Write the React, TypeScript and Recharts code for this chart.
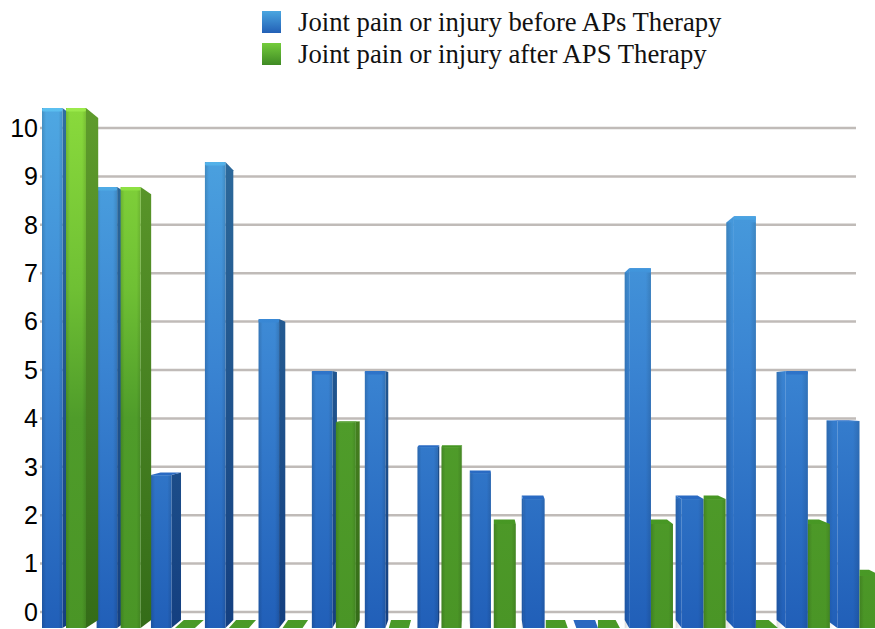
import { BarChart, Bar, XAxis, YAxis, CartesianGrid, Legend } from "recharts";

const groups = ["1", "2", "3", "4", "5", "6", "7", "8", "9", "10", "11", "12", "13", "14", "15", "16"];
const before = [10, 8.48, 2.94, 8.96, 5.94, 4.94, 4.94, 3.48, 2.98, 2.48, 0, 6.92, 2.48, 7.92, 4.94, 3.98];
const after = [10, 8.48, 0, 0, 0, 3.96, 0, 3.48, 2, 0, 0, 2, 2.48, 0, 2, 1];
const yTicks = [0, 1, 2, 3, 4, 5, 6, 7, 8, 9, 10];

const beforeName = "Joint pain or injury before APs Therapy";
const afterName = "Joint pain or injury after APS Therapy";

const data = groups.map((name, i) => ({ name, before: before[i], after: after[i] }));

const BAR = 24;
const HORIZON = 397;

// the original is a 3D chart, so columns drift and widen slightly across the page
const warp = (x: number) => x + 0.0477 * (x - 42) - 0.000061 * (x - 42) ** 2;
const blueWidth = (x: number) => 20.5 + Math.max(0, x - 450) * 0.033;
const sideDepth = (x: number) => (480 - x) * 0.031;
const skew = (y: number) => (HORIZON - y) * 0.0346;

function Prism({ left, right, y, base, id, dx, leftFixed }: any) {
  const rise = skew(y);
  const edge = skew(base);
  const bevelLeft = dx < 0 && !leftFixed;
  const frontL = bevelLeft ? left - dx : left;
  const sideX = dx < 0 ? frontL : right;
  const shadeL = bevelLeft ? left : frontL;
  const shadeY = bevelLeft ? y + Math.max(rise, 0) : y;
  return (
    <g>
      {dx !== 0 && !(leftFixed && dx < 0) && (
        <polygon
          points={`${sideX},${y} ${sideX + dx},${y + rise} ${sideX + dx},${base + edge} ${sideX},${base}`}
          fill={dx < 0 ? `url(#${id}Front)` : `url(#${id}Side)`}
        />
      )}
      <rect x={frontL} y={y} width={Math.max(0, right - frontL)} height={base - y} fill={`url(#${id}Front)`} />
      <rect x={shadeL} y={shadeY} width={Math.max(0, right - shadeL)} height={Math.max(0, base - shadeY)} fill="url(#edgeShade)" />
      {rise < 0 ? (
        <polygon
          points={`${frontL},${y} ${right},${y} ${right + dx},${y + rise} ${(leftFixed && dx < 0 ? frontL : frontL + dx)},${y + rise}`}
          fill={`url(#${id}Cap)`}
        />
      ) : (
        <rect x={frontL} y={y} width={Math.max(0, right - frontL)} height={3.5} rx={1.5} fill={`url(#${id}Cap)`} />
      )}
    </g>
  );
}

function BlueBar(props: any) {
  const left = warp(props.x);
  const w = blueWidth(left);
  const right = left + w;
  return <Prism left={left} right={right} y={props.y} base={props.y + props.height} id="blue" dx={sideDepth(left < 480 ? right : left)} />;
}

function GreenBar(props: any) {
  const start = warp(props.x - BAR);
  const left = start + Math.max(24, blueWidth(start));
  const right = left + (left > 470 ? 22 : 20);
  return <Prism left={left} right={right} y={props.y} base={props.y + props.height} id="green" dx={sideDepth(right)} leftFixed />;
}

function LegendBox({ payload }: any) {
  return (
    <div>
      {(payload || []).map((entry: any, i: number) => (
        <div key={entry.value} style={{ display: "flex", alignItems: "center", height: 32 }}>
          <span
            style={{
              display: "inline-block",
              width: 19,
              height: 22,
              marginRight: 17,
              background:
                i === 0 ? "linear-gradient(#4aa6e0, #2360b6)" : "linear-gradient(#74cc3c, #3f8a24)",
            }}
          />
          <span style={{ fontFamily: "Liberation Serif", fontSize: 26.7, color: "#111", whiteSpace: "nowrap" }}>{entry.value}</span>
        </div>
      ))}
    </div>
  );
}

function GridLine(props: any) {
  return <line x1={props.x1} y1={props.y1} x2={856} y2={props.y2} stroke="#c0bbb8" strokeWidth={2.5} />;
}

export default function App() {
  return (
    <div style={{ position: "absolute", left: 0, top: 0, width: 875, height: 629, overflow: "hidden" }}>
      <BarChart
        width={890}
        height={629}
        data={data}
        barSize={BAR}
        barGap={0}
        margin={{ top: 100, right: 13, bottom: 1, left: 0 }}
      >
        <defs>
          <linearGradient id="blueFront" gradientUnits="userSpaceOnUse" x1="0" y1="105" x2="0" y2="628">
            <stop offset="0" stopColor="#4fa8e2" />
            <stop offset="0.5" stopColor="#3a84d2" />
            <stop offset="1" stopColor="#215fb8" />
          </linearGradient>
          <linearGradient id="blueSide" gradientUnits="userSpaceOnUse" x1="0" y1="105" x2="0" y2="628">
            <stop offset="0" stopColor="#2f6e9e" />
            <stop offset="1" stopColor="#143f80" />
          </linearGradient>
          <linearGradient id="blueCap" gradientUnits="userSpaceOnUse" x1="0" y1="105" x2="0" y2="628">
            <stop offset="0" stopColor="#5cc0f0" />
            <stop offset="0.4" stopColor="#3a8ad6" />
            <stop offset="0.55" stopColor="#2a6cc4" />
            <stop offset="1" stopColor="#2a68c0" />
          </linearGradient>
          <linearGradient id="greenFront" gradientUnits="userSpaceOnUse" x1="0" y1="105" x2="0" y2="628">
            <stop offset="0" stopColor="#8ada3c" />
            <stop offset="0.35" stopColor="#6fc034" />
            <stop offset="0.6" stopColor="#4f9c2a" />
            <stop offset="1" stopColor="#4a9526" />
          </linearGradient>
          <linearGradient id="greenSide" gradientUnits="userSpaceOnUse" x1="0" y1="105" x2="0" y2="628">
            <stop offset="0" stopColor="#5f9c2c" />
            <stop offset="1" stopColor="#346c18" />
          </linearGradient>
          <linearGradient id="greenCap" gradientUnits="userSpaceOnUse" x1="0" y1="105" x2="0" y2="628">
            <stop offset="0" stopColor="#9cea4c" />
            <stop offset="0.2" stopColor="#8ade40" />
            <stop offset="0.6" stopColor="#459520" />
            <stop offset="1" stopColor="#4a9a28" />
          </linearGradient>
          <linearGradient id="edgeShade" x1="0" y1="0" x2="1" y2="0">
            <stop offset="0" stopColor="#000" stopOpacity="0.14" />
            <stop offset="0.2" stopColor="#000" stopOpacity="0" />
            <stop offset="0.8" stopColor="#000" stopOpacity="0" />
            <stop offset="1" stopColor="#000" stopOpacity="0.12" />
          </linearGradient>
        </defs>
        <CartesianGrid yAxisId="ticks" vertical={false} horizontal={GridLine} syncWithTicks />
        <XAxis dataKey="name" hide />
        <YAxis
          yAxisId="ticks"
          width={40}
          domain={[-0.3306, 10.579]}
          ticks={yTicks}
          interval={0}
          allowDataOverflow
          axisLine={false}
          tickLine={false}
          tickSize={0}
          tickMargin={2}
          tick={{ fontFamily: "Liberation Sans", fontSize: 25, fill: "#000" }}
        />
        <YAxis yAxisId="bars" orientation="right" width={0} hide domain={[0, 10.154]} allowDataOverflow />
        <Legend
          verticalAlign="middle"
          itemSorter={null}
          content={LegendBox}
          wrapperStyle={{ position: "absolute", left: 262, top: 6, width: 500 }}
        />
        <Bar yAxisId="bars" dataKey="before" name={beforeName} fill="#3a84d2" shape={BlueBar} isAnimationActive={false} />
        <Bar yAxisId="bars" dataKey="after" name={afterName} fill="#4f9c2a" shape={GreenBar} isAnimationActive={false} />
      </BarChart>
    </div>
  );
}
